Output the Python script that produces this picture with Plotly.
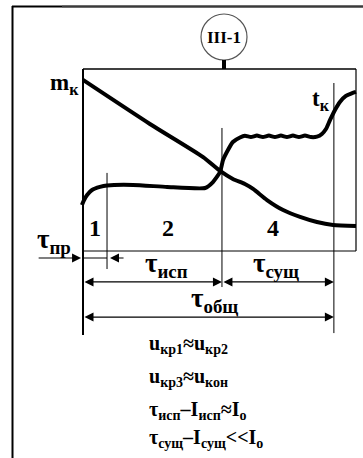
import plotly.graph_objects as go

# ---- process data (time in % of total cycle, value in % of scale) ----
mass_t = [0, 24.5, 44.0, 50.2, 54.9, 59.3, 62.3, 67.4, 73.3, 79.5, 85.7, 91.6, 100]
mass_v = [94.0, 69.8, 51.6, 44.0, 39.6, 36.8, 34.1, 28.0, 22.5, 18.7, 15.9, 14.3, 13.7]

temp_t = [-0.4, 0.4, 1.5, 3.3, 6.2, 8.8, 18.3, 30.8, 44.7, 47.6, 50.2, 51.3, 53.1,
          54.9, 57.5, 59.3, 61.5, 63.7, 65.9, 68.1, 70.3, 72.5, 74.7, 76.9, 79.1,
          81.3, 83.5, 85.7, 87.5, 89.0, 90.5, 92.3, 94.1, 96.3, 98.2, 100]
temp_v = [25.3, 28.0, 30.8, 33.5, 35.2, 36.0, 36.3, 35.2, 34.6, 37.9, 43.4, 50.0, 55.5,
          59.9, 62.4, 63.3, 62.6, 63.4, 62.6, 63.4, 62.6, 63.4, 62.6, 63.4, 62.6,
          63.4, 62.6, 62.8, 64.3, 67.0, 72.0, 77.5, 81.9, 85.2, 86.5, 87.4]

# phase boundaries: end of warm-up, end of evaporation, end of drying
t_pr, t_isp, t_sush = 8.8, 50.9, 91.9
zone_labels = ["1", "2", "4"]
zone_t = [4.4, 31.0, 69.5]

W, H = 363, 458
# full-canvas data window: box spans px 83..356 horizontally, 251..69 vertically
SX, SY = 2.73, 1.82
X0PX, Y0PX = 83, 251
xr = [-X0PX / SX, (W - X0PX) / SX]
yr = [(Y0PX - H) / SY, Y0PX / SY]

FONT = "Liberation Serif"


def px(x):
    return x / W


def py(y):
    return 1 - y / H


fig = go.Figure()
fig.add_trace(go.Scatter(x=mass_t, y=mass_v, mode="lines",
                         line=dict(color="black", width=4, shape="spline", smoothing=0.6),
                         hoverinfo="skip"))
fig.add_trace(go.Scatter(x=temp_t, y=temp_v, mode="lines",
                         line=dict(color="black", width=4, shape="spline", smoothing=0.5),
                         hoverinfo="skip"))

shapes = []


def dline(x0, y0, x1, y1, w=1.0, color="black"):
    shapes.append(dict(type="line", xref="x", yref="y", x0=x0, y0=y0, x1=x1, y1=y1,
                       line=dict(color=color, width=w)))


def pline(x0, y0, x1, y1, w=1.0, color="black"):
    shapes.append(dict(type="line", xref="paper", yref="paper",
                       x0=px(x0), y0=py(y0), x1=px(x1), y1=py(y1),
                       line=dict(color=color, width=w)))


# outer frame
pline(12.5, 6, 12.5, H, 2)
pline(12, 6.5, 62, 6.5, 2)
pline(62, 6.5, W, 6.5, 2.5, "#3a3a3a")

# chart box
dline(0, 100, 100, 100, 1.3)
dline(0, 0, 100, 0, 1.0)
dline(100, 0, 100, 100, 1.2)
dline(0, 100, 0, -46.2, 2.0)

# phase boundary lines
dline(t_pr, 42.9, t_pr, -9.9, 1.0)
dline(t_isp, 67.6, t_isp, -19.8, 1.0)
dline(t_sush, 92.3, t_sush, -45.1, 1.0)
dline(0, -3.85, t_pr, -3.85, 1.0)

# gauge symbol
shapes.append(dict(type="circle", xref="paper", yref="paper",
                   x0=px(201), x1=px(247), y0=py(14), y1=py(60),
                   line=dict(color="#555555", width=1.2), fillcolor="white"))
pline(224, 60, 224, 69, 4)

annotations = []


def arrow(x_head, x_tail, y, both=False):
    a = dict(x=x_head, y=y, ax=x_tail, ay=y, xref="x", yref="y", axref="x", ayref="y",
             text="", showarrow=True, arrowhead=2, arrowsize=1.5, arrowwidth=1.2,
             arrowcolor="black", standoff=0, startstandoff=0)
    if both:
        a.update(arrowside="end+start", startarrowhead=2, startarrowsize=1.5)
    annotations.append(a)


arrow(-0.7, -16.8, -3.85)
arrow(9.9, 15.4, -3.85)
arrow(t_isp, 0, -17.0, both=True)
arrow(t_sush, t_isp, -17.0, both=True)
arrow(t_sush, 0, -36.3, both=True)


def label(text, x, y, size, xanchor="center", yanchor="middle", color="black"):
    annotations.append(dict(text=text, x=px(x), y=py(y), xref="paper", yref="paper",
                            showarrow=False, xanchor=xanchor, yanchor=yanchor,
                            font=dict(family=FONT, size=size, color=color)))


label("<b>III-1</b>", 224, 37, 17)
label("<b>m<sub>к</sub></b>", 81, 84, 23, xanchor="right")
label("<b>t<sub>к</sub></b>", 321, 100, 23)

for lab, t in zip(zone_labels, zone_t):
    annotations.append(dict(text=f"<b>{lab}</b>", x=t, y=(Y0PX - 228) / SY, xref="x", yref="y",
                            showarrow=False, font=dict(family=FONT, size=24, color="black")))

label("<b>τ<sub>пр</sub></b>", 35, 241, 27, xanchor="left")
label("<b>τ<sub>исп</sub></b>", 166, 265, 27)
label("<b>τ<sub>сущ</sub></b>", 276, 265, 27)
label("<b>τ<sub>общ</sub></b>", 214, 300, 27)

label("<b>u<sub>кр1</sub>≈u<sub>кр2</sub></b>", 147, 344, 20, xanchor="left")
label("<b>u<sub>кр3</sub>≈u<sub>кон</sub></b>", 147, 377, 20, xanchor="left")
label("<b>τ<sub>исп</sub>–I<sub>исп</sub>≈I<sub>о</sub></b>", 147, 410, 20, xanchor="left")
label("<b>τ<sub>сущ</sub>–I<sub>сущ</sub>&lt;&lt;I<sub>о</sub></b>", 147, 438, 20, xanchor="left")

fig.update_layout(
    width=W, height=H, autosize=False,
    margin=dict(l=0, r=0, t=0, b=0, pad=0),
    paper_bgcolor="white", plot_bgcolor="white",
    showlegend=False,
    xaxis=dict(range=xr, visible=False, fixedrange=True),
    yaxis=dict(range=yr, visible=False, fixedrange=True),
    shapes=shapes, annotations=annotations,
)

fig.write_html("out.html")
